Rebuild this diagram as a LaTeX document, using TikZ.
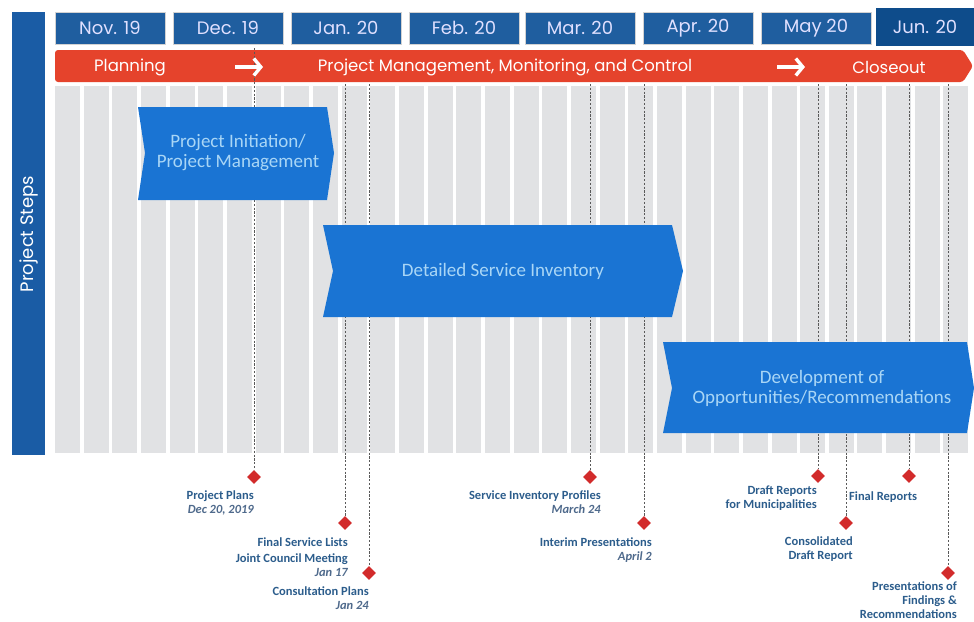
\documentclass[tikz,border=0pt]{standalone}
\usepackage{fontspec}
\setmainfont{Carlito}
\newfontfamily\hdr{Poppins}
\usetikzlibrary{shapes.geometric,arrows.meta}
\definecolor{barblue}{HTML}{1A5CA5}
\definecolor{monblue}{HTML}{1F5E9F}
\definecolor{junblue}{HTML}{0E4C8B}
\definecolor{redbar}{HTML}{E5432C}
\definecolor{gridgray}{HTML}{E1E2E4}
\definecolor{chev}{HTML}{1A74D3}
\definecolor{chevtxt}{HTML}{A9D6F6}
\definecolor{lbl}{HTML}{2C5D8C}
\definecolor{datec}{HTML}{4F6A8C}
\definecolor{dia}{HTML}{D22B2B}
\tikzset{
  month/.style={fill=monblue,draw=gray!35,line width=1pt,minimum width=110pt,minimum height=32pt,inner sep=0pt,text=white!88!blue,font=\hdr\fontsize{18}{18}\selectfont},
  bartxt/.style={text=white,font=\hdr\fontsize{16.5}{16.5}\selectfont,inner sep=0pt},
  bararrow/.style={draw=white,line width=3.4pt,-{Straight Barb[length=7pt,width=17pt,line width=3.4pt]}},
  chevtext/.style={text=chevtxt,align=center,font=\fontsize{19}{20}\selectfont,inner sep=0pt},
  ms/.style={diamond,fill=dia,minimum size=14pt,inner sep=0pt},
  msline/.style={draw=black!65,line width=0.9pt,dash pattern=on 2.2pt off 1.6pt},
  mslbl/.style={text=lbl,font=\bfseries\fontsize{12.5}{14}\selectfont,inner sep=0pt},
}
\newcommand{\dt}[1]{{\color{datec}\itshape #1}}
\begin{document}
\begin{tikzpicture}[x=1pt,y=-1pt]
\useasboundingbox[fill=white] (0,0) rectangle (974,621);
% left bar
\fill[barblue] (12,12) rectangle (45,455);
\node[rotate=90,text=white,font=\hdr\fontsize{18}{18}\selectfont] (steps) at (29,234) {Project Steps};
% grid
\foreach \i in {0,...,31}{
  \fill[gridgray] ({55+\i*28.66},86) rectangle ({55+\i*28.66+25},453);
}
% months
\node[month] (nov) at (110,28) {Nov. 19};
\node[month] (dec) at (228,28) {Dec. 19};
\node[month] (jan) at (346,28) {Jan. 20};
\node[month] (feb) at (464,28) {Feb. 20};
\node[month] (mar) at (580,28) {Mar. 20};
\node[month] (apr) at (698,28) {Apr. 20};
\node[month] (may) at (816,28) {May 20};
\node[month,fill=junblue,draw=none,minimum width=98pt,minimum height=38pt] (jun) at (925,27) {Jun. 20};
% red bar
\fill[redbar,rounded corners=3pt] (55,50) -- (963,50) -- (973,66) -- (963,82) -- (55,82) -- cycle;
\node[bartxt] (plan) at (130,67) {Planning};
\node[bartxt] (pm) at (505,67) {Project Management, Monitoring, and Control};
\node[bartxt] (close) at (889,67) {Closeout};
\coordinate (a1s) at (235,67);
\coordinate (a1e) at (263,67);
\coordinate (a2s) at (777,67);
\coordinate (a2e) at (805,67);
% milestone diamonds
\node[ms] (m1) at (254,477) {};
\node[ms] (m2) at (345,523) {};
\node[ms] (m3) at (369,573) {};
\node[ms] (m4) at (590,477) {};
\node[ms] (m5) at (644,523) {};
\node[ms] (m6) at (818,476) {};
\node[ms] (m7) at (846,523) {};
\node[ms] (m8) at (909,476) {};
\node[ms] (m9) at (948,573) {};
% line tops
\coordinate (t1) at (254,48);
\coordinate (t2) at (345,84);
\coordinate (t3) at (369,84);
\coordinate (t4) at (590,84);
\coordinate (t5) at (644,84);
\coordinate (t6) at (818,84);
\coordinate (t7) at (846,84);
\coordinate (t8) at (909,84);
\coordinate (t9) at (948,84);
\foreach \k in {1,...,9}{\draw[msline] (t\k) -- (m\k.north);}
\draw[bararrow] (a1s) -- (a1e);
\draw[bararrow] (a2s) -- (a2e);
% chevrons
\fill[chev] (138,107) -- (327,107) -- (334,153) -- (327,200) -- (138,200) -- (145,153) -- cycle;
\node[chevtext] (c1) at (238,153) {Project Initiation/\\Project Management};
\fill[chev] (323,225) -- (672,225) -- (683,271) -- (672,317) -- (323,317) -- (333,271) -- cycle;
\node[chevtext] (c2) at (503,271) {Detailed Service Inventory};
\fill[chev] (663,342) -- (967,342) -- (974,388) -- (967,433) -- (663,433) -- (672,388) -- cycle;
\node[chevtext] (c3) at (822,388) {Development of\\Opportunities/Recommendations};
% labels
\node[mslbl,anchor=north east,align=right] (l1) at (254,491) {Project Plans\\\dt{Dec 20, 2019}};
\node[mslbl,anchor=north east,align=right] (l2) at (348,538) {Final Service Lists\\[2pt]Joint Council Meeting\\\dt{Jan 17}};
\node[mslbl,anchor=north east,align=right] (l3) at (369,587) {Consultation Plans\\\dt{Jan 24}};
\node[mslbl,anchor=north east,align=right] (l4) at (601,491) {Service Inventory Profiles\\\dt{March 24}};
\node[mslbl,anchor=north east,align=right] (l5) at (652,538) {Interim Presentations\\\dt{April 2}};
\node[mslbl,anchor=north east,align=right] (l6) at (817,486) {Draft Reports\\for Municipalities};
\node[mslbl,anchor=north east,align=right] (l7) at (853,537) {Consolidated\\Draft Report};
\node[mslbl,anchor=west] (l8) at (849,497) {Final Reports};
\node[mslbl,anchor=north east,align=right] (l9) at (957,582) {Presentations of\\Findings \&\\Recommendations};
\end{tikzpicture}
\end{document}
